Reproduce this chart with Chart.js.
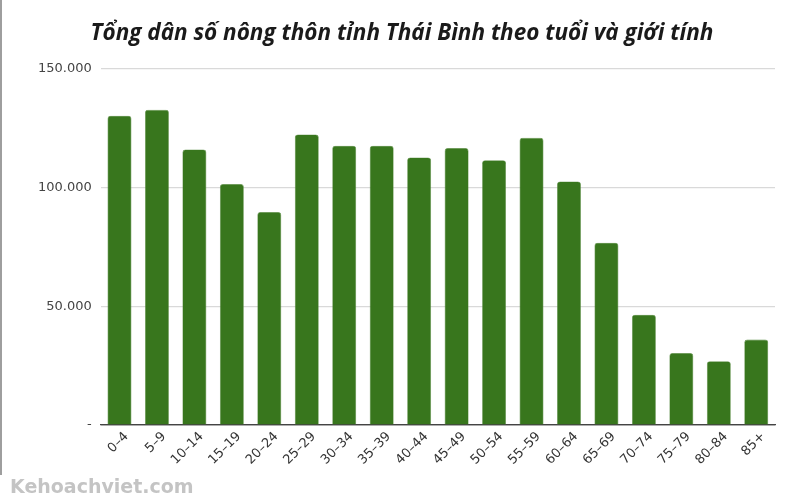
<!DOCTYPE html>
<html>
<head>
<meta charset="utf-8">
<script src="https://cdn.jsdelivr.net/npm/chart.js@4.4.1/dist/chart.umd.min.js"></script>
<style>
  html, body { margin: 0; padding: 0; background: #fff; }
  #wrap { position: relative; width: 800px; height: 500px; }
  #edge { position: absolute; left: 0; top: 0; width: 2px; height: 475px; background: #9e9e9e; }
  #wm { position: absolute; left: 10px; top: 475px; font-family: "DejaVu Sans", sans-serif; font-weight: bold; font-size: 19px; color: #c4c4c4; }
</style>
</head>
<body>
<div id="wrap">
  <canvas id="c" width="800" height="500"></canvas>
  <div id="edge"></div>
  <div id="wm">Kehoachviet.com</div>
</div>
<script>
const categories = ["0–4","5–9","10–14","15–19","20–24","25–29","30–34","35–39","40–44","45–49","50–54","55–59","60–64","65–69","70–74","75–79","80–84","85+"];
const population = [130300, 132800, 116100, 101500, 89700, 122400, 117700, 117700, 112700, 116700, 111600, 121000, 102600, 76800, 46500, 30300, 26900, 36000];
const titleText = "Tổng dân số nông thôn tỉnh Thái Bình theo tuổi và giới tính";

function fmt(v) {
  if (v === 0) return "-";
  return v.toLocaleString("en-US").replace(/,/g, ".");
}

new Chart(document.getElementById("c"), {
  type: "bar",
  data: {
    labels: categories,
    datasets: [{
      data: population,
      backgroundColor: "#38761d",
      borderColor: "#5e8f47",
      borderWidth: 0.6,
      borderRadius: 3,
      borderSkipped: "start",
      barPercentage: 0.64,
      categoryPercentage: 1.0
    }]
  },
  options: {
    responsive: false,
    animation: false,
    devicePixelRatio: 1,
    layout: { padding: { left: 29, right: 25, top: 4, bottom: 28 } },
    plugins: {
      legend: { display: false },
      tooltip: { enabled: false },
      title: {
        display: true,
        text: titleText,
        color: "#1a1a1a",
        font: { family: "'Open Sans'", size: 22.5, weight: "bold", style: "italic" },
        padding: { top: 16, bottom: 22 }
      }
    },
    scales: {
      x: {
        grid: { display: false, drawTicks: false },
        border: { display: true, color: "#444", width: 1.2 },
        ticks: {
          color: "#333",
          font: { family: "'DejaVu Sans'", size: 13 },
          maxRotation: 45, minRotation: 45,
          padding: 4,
          labelOffset: 7,
          autoSkip: false
        }
      },
      y: {
        min: 0, max: 150000,
        grid: {
          color: (ctx) => ctx.tick && ctx.tick.value === 0 ? "#444" : "#d9d9d9",
          lineWidth: 1.2,
          drawTicks: false
        },
        border: { display: false },
        ticks: {
          stepSize: 50000,
          color: "#444",
          font: { family: "'DejaVu Sans'", size: 13 },
          padding: 9,
          callback: (v) => fmt(v)
        }
      }
    }
  }
});
</script>
</body>
</html>
